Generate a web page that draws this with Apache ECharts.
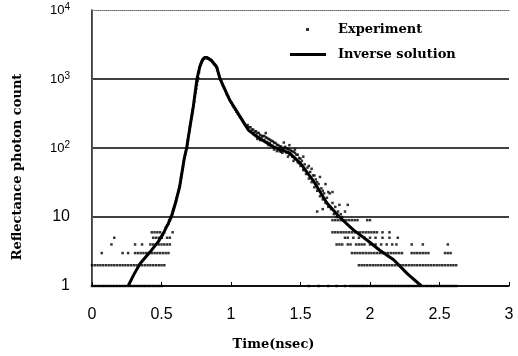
<!DOCTYPE html>
<html>
<head>
<meta charset="utf-8">
<script src="https://cdn.jsdelivr.net/npm/echarts@6/dist/echarts.min.js"></script>
<style>
html,body{margin:0;padding:0;background:#fff;}
#main{width:518px;height:356px;}
</style>
</head>
<body>
<div id="main"></div>
<script>
// inverse solution curve [time(nsec), count]
var inverseSolution = [
  [0.26,1],[0.30,1.45],[0.345,2.1],[0.417,3.1],[0.477,4.4],[0.513,5.8],[0.549,8.1],
  [0.573,10.3],[0.597,15],[0.63,27],[0.664,71],[0.681,100],[0.705,204],[0.729,400],
  [0.755,1000],[0.775,1500],[0.795,1900],[0.815,2050],[0.835,2000],[0.86,1850],
  [0.897,1500],[0.92,1020],[0.99,500],[1.065,285],[1.125,182],[1.16,160],[1.20,140],
  [1.30,105],[1.42,85],[1.50,60],[1.59,34],[1.69,16],[1.78,10],[1.88,6.5],[1.98,4.6],
  [2.07,3.3],[2.17,2.4],[2.27,1.5],[2.37,1]
];

// experiment points following the curve [time, count]
var expCurve = [
  [0.50,5],[0.51,5.5],[0.52,6],[0.53,7],[0.54,7.5],[0.55,8],[0.555,9],[0.56,9],[0.565,10],
  [0.57,10],[0.575,11],[0.58,12],[0.585,13],[0.59,14],[0.595,15],[0.60,16],[0.605,17],
  [0.61,19],[0.615,21],[0.62,23],[0.625,25],[0.63,28],[0.635,32],[0.64,37],[0.645,42],
  [0.65,48],[0.655,55],[0.66,63],[0.665,72],[0.67,80],[0.675,88],[0.68,98],[0.685,110],
  [0.69,130],[0.695,150],[0.70,175],[0.705,205],[0.71,235],[0.715,270],[0.72,310],
  [0.725,360],[0.73,410],[0.735,470],[0.74,550],[0.745,630],[0.75,720],[0.755,820],
  [0.76,930],[0.765,1030],[0.77,1250],[0.775,1450],[0.78,1600],[0.785,1700],[0.79,1800],
  [0.795,1880],[0.80,1950],[0.805,2000],[0.81,2040],[0.815,2060],[0.82,2060],[0.825,2040],
  [0.83,2020],[0.835,2000],[0.84,1970],[0.845,1940],[0.85,1910],[0.855,1880],[0.86,1840],
  [0.865,1790],[0.87,1740],[0.875,1690],[0.88,1640],[0.885,1600],[0.89,1550],[0.895,1500],
  [0.90,1420],[0.905,1300],[0.91,1200],[0.915,1100],[0.92,1020],[0.93,910],[0.94,820],
  [0.95,740],[0.96,670],[0.97,600],[0.98,550],[0.99,500],[1.00,460],[1.01,420],[1.02,390],
  [1.03,360],[1.04,335],[1.05,310],[1.06,290],[1.07,275],[1.08,255],[1.09,235],[1.10,220],
  [1.11,205],[1.12,190],[1.13,200],[1.14,175],[1.15,185],[1.16,165],[1.17,172],[1.18,155],
  [1.19,165],[1.20,145],[1.21,155],[1.22,138],[1.23,148],[1.24,130],[1.25,142],[1.26,122],
  [1.27,135],[1.28,118],[1.29,128],[1.30,108],[1.31,120],[1.32,100],[1.33,112],[1.34,95],
  [1.35,106],[1.36,88],[1.37,100],[1.38,92],[1.39,104],[1.40,85],[1.41,97],[1.42,80],
  [1.43,92],[1.44,75],[1.45,88],[1.46,70],[1.47,80],[1.48,62],[1.49,72],[1.50,55],
  [1.51,65],[1.52,48],[1.53,58],[1.54,42],[1.55,52],[1.56,36],[1.57,45],[1.58,32],
  [1.59,40],[1.60,27],[1.61,35],[1.62,24],[1.63,30],[1.64,20],[1.65,26],[1.66,18],
  [1.67,22],[1.68,16],[1.69,19],[1.70,14],[1.71,22],[1.72,13],[1.73,16],[1.74,11],
  [1.75,14],[1.76,10],[1.77,12],[1.78,15],[1.79,11],[1.80,10],[1.82,12],[1.84,15],
  [1.19,135],[1.25,165],[1.33,90],[1.38,120],[1.42,110],[1.46,95],[1.52,75],[1.58,50],
  [1.64,38],[1.68,30],[1.70,23],[1.73,23],[1.62,12],[1.66,13],
  [1.12,215],[1.14,200],[1.16,185],[1.18,175],[1.20,165],[1.22,150],[1.24,150],[1.26,140],
  [1.28,132],[1.30,125],[1.32,118],[1.34,110],[1.36,105],[1.38,100],[1.40,98],[1.42,95],
  [1.44,90],[1.46,85],[1.48,80],[1.50,70],[1.21,130],[1.27,110],[1.31,95],[1.35,90],
  [1.37,85],[1.41,75],[1.45,65],[1.49,60],[1.53,48],[1.56,55],[1.60,40],[1.62,32],[1.66,24]
];

// low-count experiment points, times at each integer count
var expLevel1 = [0.00,0.02,0.04,0.06,0.08,0.10,0.12,0.14,0.16,0.18,0.20,0.22,0.24,0.26,0.28,
  0.30,0.32,0.34,0.36,0.38,0.40,0.42,0.44,0.46,0.48,0.50,1.56,1.63,1.70,1.76,1.82,1.86,
  1.88,1.90,1.92,1.94,1.96,1.98,2.00,2.02,2.04,2.06,2.08,2.10,2.12,2.14,2.16,2.18,2.20,
  2.22,2.24,2.26,2.28,2.30,2.32,2.34,2.36,2.38,2.40,2.42,2.44,2.46,2.48,2.50,2.52,2.54,
  2.56,2.58,2.60,2.62];
var expLevel2 = [0.00,0.02,0.04,0.06,0.08,0.10,0.12,0.14,0.16,0.18,0.20,0.22,0.24,0.26,0.28,
  0.30,0.32,0.34,0.36,0.38,0.40,0.42,0.44,0.46,0.48,0.50,0.52,1.92,1.94,1.96,1.98,2.00,
  2.02,2.04,2.06,2.08,2.10,2.12,2.14,2.16,2.18,2.20,2.22,2.24,2.26,2.28,2.30,2.32,2.34,
  2.36,2.38,2.40,2.42,2.44,2.46,2.48,2.50,2.52,2.54,2.56,2.58,2.60,2.62];
var expLevel3 = [0.07,0.22,0.26,0.31,0.33,0.35,0.37,0.39,0.41,0.43,0.45,0.47,0.49,0.51,0.53,
  0.55,1.87,1.89,1.91,1.93,1.95,1.97,1.99,2.01,2.03,2.05,2.07,2.09,2.11,2.13,2.15,2.17,
  2.19,2.21,2.23,2.30,2.32,2.34,2.36,2.38,2.40,2.42,2.54,2.56,2.58];
var expLevel4 = [0.14,0.31,0.36,0.42,0.44,0.46,0.48,0.50,0.52,0.54,0.56,1.76,1.78,1.80,1.84,
  1.86,1.90,1.92,1.94,1.96,2.00,2.04,2.08,2.12,2.16,2.19,2.30,2.38,2.56];
var expLevel5 = [0.16,0.44,0.46,0.48,0.50,0.54,0.56,1.82,1.84,1.88,1.92,1.96,2.00,2.04,2.09,
  2.14,2.20];
var expLevel6 = [0.43,0.45,0.47,0.49,0.58,1.73,1.75,1.77,1.79,1.81,1.83,1.85,1.87,1.89,1.91,
  1.93,1.95,1.97,1.99,2.01,2.03,2.05,2.09,2.14];
var expLevel9 = [1.73,1.75,1.77,1.79,1.81,1.83,1.85,1.87,1.89,1.91,1.98,2.00];

var xTicks = [0, 0.5, 1, 1.5, 2, 2.5, 3];
var yPowers = {1: '1', 10: '10', 100: '2', 1000: '3', 10000: '4'};

var experiment = expCurve.slice();
[[1, expLevel1], [2, expLevel2], [3, expLevel3], [4, expLevel4],
 [5, expLevel5], [6, expLevel6], [9, expLevel9]].forEach(function (lv) {
  lv[1].forEach(function (t) { experiment.push([t, lv[0]]); });
});

var myChart = echarts.init(document.getElementById('main'));

var serif = '"DejaVu Serif", "Times New Roman", serif';
var sans = '"Liberation Sans", Arial, sans-serif';

option = {
  animation: false,
  backgroundColor: '#fff',
  grid: {left: 92, right: 9, top: 10, bottom: 70},
  legend: [
    {
      data: ['Experiment'],
      left: 306, top: 23, padding: 0,
      icon: 'rect', itemWidth: 3, itemHeight: 3,
      textStyle: {fontFamily: serif, fontWeight: 'bold', fontSize: 13, color: '#000', padding: [0, 0, 0, 24]}
    },
    {
      data: [{name: 'Inverse solution', icon: 'rect'}],
      left: 290, top: 48, padding: 0,
      itemWidth: 36, itemHeight: 3,
      textStyle: {fontFamily: serif, fontWeight: 'bold', fontSize: 13, color: '#000', padding: [0, 0, 0, 7]}
    }
  ],
  xAxis: [
    {
      type: 'value', min: 0, max: 3, interval: 0.5,
      name: 'Time(nsec)', nameLocation: 'middle', nameGap: 52,
      nameTextStyle: {fontFamily: serif, fontWeight: 'bold', fontSize: 13, color: '#000', padding: [0, 54, 0, 0]},
      axisLine: {lineStyle: {color: '#000', width: 1.5}},
      axisTick: {inside: true, length: 4, lineStyle: {color: '#000'}},
      axisLabel: {
        fontFamily: sans, fontSize: 16, color: '#000', margin: 21,
        formatter: function (v) { return xTicks.indexOf(v) >= 0 ? String(v) : ''; }
      },
      splitLine: {show: false}
    },
    {
      type: 'value', min: 0, max: 3, position: 'top',
      axisLine: {show: true, lineStyle: {color: '#666', type: 'dotted'}},
      axisTick: {show: false}, axisLabel: {show: false}, splitLine: {show: false}
    }
  ],
  yAxis: [
    {
      type: 'log', logBase: 10, min: 1, max: 10000,
      axisLine: {show: true, lineStyle: {color: '#000', width: 1.5}},
      axisTick: {show: false},
      axisLabel: {
        margin: 22,
        formatter: function (v) {
          var p = yPowers[v];
          if (v < 100) return '{b|' + p + '}';
          return '{m|10}{s|' + p + '}';
        },
        rich: {
          b: {fontFamily: sans, fontSize: 16, color: '#000'},
          m: {fontFamily: sans, fontSize: 13, color: '#000'},
          s: {fontFamily: sans, fontSize: 10, color: '#000', verticalAlign: 'top', padding: [0, 0, 6, 0]}
        }
      },
      splitLine: {show: true, lineStyle: {color: ['#000', '#000', '#000', '#000', 'transparent'], width: 1.5}}
    },
    {
      type: 'log', logBase: 10, min: 1, max: 10000, position: 'right',
      axisLine: {show: true, lineStyle: {color: '#666', type: 'dotted'}},
      axisTick: {show: false}, axisLabel: {show: false}, splitLine: {show: false}
    }
  ],
  graphic: [
    {
      type: 'text', x: 18, y: 167, rotation: Math.PI / 2,
      style: {
        text: 'Reflectance photon count', fill: '#000',
        font: 'bold 13px ' + serif, textAlign: 'center', textVerticalAlign: 'middle'
      }
    }
  ],
  series: [
    {
      name: 'Experiment', type: 'scatter',
      symbol: 'rect', symbolSize: 2.5,
      itemStyle: {color: '#000'},
      data: experiment
    },
    {
      name: 'Inverse solution', type: 'line',
      symbol: 'none', smooth: false,
      lineStyle: {color: '#000', width: 3},
      itemStyle: {color: '#000'},
      data: inverseSolution
    }
  ]
};
myChart.setOption(option);
</script>
</body>
</html>
